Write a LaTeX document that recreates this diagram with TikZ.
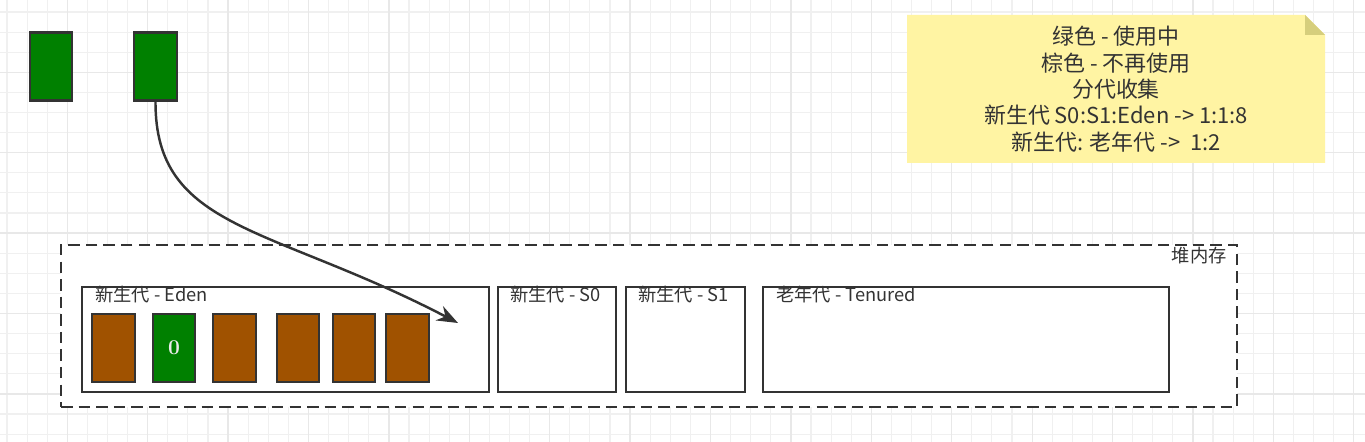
\documentclass[tikz,border=0pt]{standalone}
\usepackage{fontspec}
\newfontfamily\cjk{Noto Sans CJK SC}
\usepackage{xcolor}
\definecolor{usedgreen}{RGB}{0,128,0}
\definecolor{deadbrown}{RGB}{160,82,0}
\definecolor{edgegray}{RGB}{51,51,51}
\definecolor{notefill}{RGB}{255,244,163}
\definecolor{notefold}{RGB}{214,206,124}
\definecolor{gridminor}{RGB}{240,240,240}
\definecolor{gridmajor}{RGB}{232,232,232}
\usetikzlibrary{arrows.meta, calc, positioning}

\begin{document}
\begin{tikzpicture}[x=0.02cm, y=-0.02cm,
  obj/.style={draw=edgegray, line width=1.3pt, minimum width=0.85cm, minimum height=1.36cm, inner sep=0pt},
  live/.style={obj, fill=usedgreen},
  dead/.style={obj, fill=deadbrown},
  area/.style={draw=edgegray, line width=1.4pt, fill=white, minimum height=2.1cm, inner sep=0pt},
  heapbox/.style={draw=edgegray, line width=1.4pt, dash pattern=on 6.5pt off 3.5pt, fill=white, minimum width=23.52cm, minimum height=3.24cm, inner sep=0pt},
  lbl/.style={font=\cjk\fontsize{10.4}{12}\selectfont, text=edgegray, inner sep=0pt},
  notetext/.style={font=\cjk\fontsize{12.5}{15}\selectfont, text=edgegray, align=center, inner sep=0pt},
  >={Stealth[length=0.42cm, width=0.32cm]}
]
\fill[white] (0,0) rectangle (1365,442);
\useasboundingbox (0,0) rectangle (1365,442);
% grid
\foreach \i in {0,...,67} \draw[gridminor, line width=0.6pt] ({7+20.1*\i},0) -- ++(0,442);
\foreach \i in {0,...,21} \draw[gridminor, line width=0.6pt] (0,{12+20.1*\i}) -- ++(1365,0);
\foreach \i in {0,...,16} \draw[gridmajor, line width=0.7pt] ({67.3+80.4*\i},0) -- ++(0,442);
\foreach \i in {0,...,4} \draw[gridmajor, line width=0.7pt] (0,{72.3+80.4*\i}) -- ++(1365,0);

% objects outside the heap
\node[live] (g1) at (51,66.5) {};
\node[live] (g2) at (155.5,66.5) {};

% legend note
\fill[notefill] (907,15) -- (1305,15) -- (1325,35) -- (1325,163) -- (907,163) -- cycle;
\fill[notefold] (1305,15) -- (1305,35) -- (1325,35) -- cycle;
\node[notetext] (legend) at (1116,89) {绿色 - 使用中\\棕色 - 不再使用\\分代收集\\新生代 S0:S1:Eden -> 1:1:8\\新生代: 老年代 ->~~1:2};

% heap
\node[heapbox] (heap) at (649,326) {};
\node[lbl, anchor=base east] (heaplbl) at ($(heap.north east)+(-11,19)$) {堆内存};
\node[area, minimum width=8.14cm] (eden) at (285.5,339.5) {};
\node[area, minimum width=2.36cm] (s0) at (557,339.5) {};
\node[area, minimum width=2.38cm] (s1) at (685.5,339.5) {};
\node[area, minimum width=8.12cm] (old) at (966,339.5) {};
\node[lbl, anchor=base west] (edenlbl) at ($(eden.north west)+(14,16)$) {新生代 - Eden};
\node[lbl, anchor=base west] (s0lbl) at ($(s0.north west)+(13,16)$) {新生代 - S0};
\node[lbl, anchor=base west] (s1lbl) at ($(s1.north west)+(13,16)$) {新生代 - S1};
\node[lbl, anchor=base west] (oldlbl) at ($(old.north west)+(14,16)$) {老年代 - Tenured};

% objects in eden
\foreach \x/\n in {113.5/b1, 234.5/b3, 298/b4, 354/b5, 407.5/b6}
  \node[dead] (\n) at (\x,348) {};
\node[live, text=white!92!black, font=\fontsize{12}{14}\selectfont\bfseries] (b2) at (174,348) {0};

% allocation
\coordinate (tgt) at (458,323);
\draw[->, edgegray, line width=1.4pt] (g2.south) .. controls (155,230) and (270,225) .. (tgt);
\end{tikzpicture}
\end{document}
